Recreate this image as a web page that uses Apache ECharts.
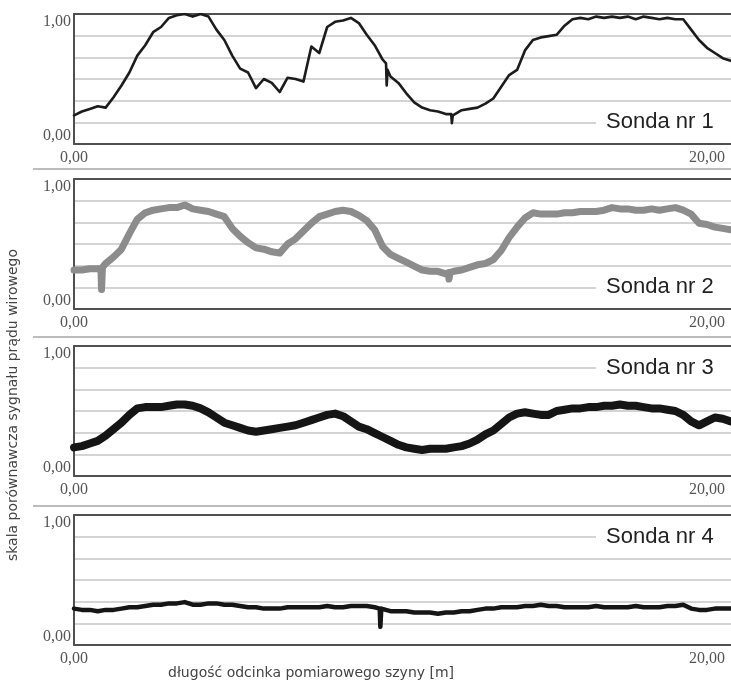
<!DOCTYPE html>
<html><head><meta charset="utf-8">
<script src="https://cdn.jsdelivr.net/npm/echarts@6/dist/echarts.min.js"></script>
<style>html,body{margin:0;padding:0;background:#fff}#c{width:731px;height:688px}</style>
</head><body><div id="c"></div>
<script>
// distance along the rail [m]
const xs = [0,0.25,0.5,0.75,1,1.25,1.5,1.75,2,2.25,2.5,2.75,3,3.25,3.5,3.75,4,4.25,4.5,4.75,
5,5.25,5.5,5.75,6,6.25,6.5,6.75,7,7.25,7.5,7.75,8,8.25,8.5,8.75,9,9.25,9.5,9.75,
10,10.25,10.5,10.75,11,11.25,11.5,11.75,12,12.25,12.5,12.75,13,13.25,13.5,13.75,14,14.25,14.5,14.75,
15,15.25,15.5,15.75,16,16.25,16.5,16.75,17,17.25,17.5,17.75,18,18.25,18.5,18.75,19,19.25,19.5,19.75,
20,20.25,20.5,20.75];

const sonda1 = [0.22,0.25,0.27,0.29,0.28,0.36,0.45,0.55,0.68,0.76,
0.86,0.90,0.97,0.99,1.00,0.98,1.00,0.98,0.88,0.80,
0.68,0.58,0.55,0.43,0.50,0.47,0.40,0.51,0.50,0.48,
0.75,0.70,0.90,0.94,0.95,0.97,0.93,0.84,0.76,0.65,
0.52,0.47,0.39,0.32,0.28,0.26,0.25,0.23,0.22,0.26,
0.27,0.28,0.31,0.35,0.44,0.53,0.57,0.72,0.80,0.82,
0.83,0.84,0.91,0.96,0.97,0.96,0.98,0.97,0.98,0.97,
0.98,0.96,0.98,0.97,0.96,0.97,0.96,0.96,0.88,0.80,
0.74,0.70,0.66,0.64];

const sonda2 = [0.30,0.30,0.31,0.31,0.35,0.40,0.46,0.58,0.69,0.74,
0.76,0.77,0.78,0.78,0.80,0.77,0.76,0.75,0.73,0.71,
0.62,0.56,0.51,0.47,0.46,0.44,0.43,0.50,0.54,0.60,
0.66,0.71,0.73,0.75,0.76,0.75,0.72,0.68,0.61,0.48,
0.42,0.39,0.36,0.33,0.30,0.29,0.29,0.27,0.29,0.30,
0.32,0.34,0.35,0.38,0.45,0.55,0.63,0.70,0.74,0.73,
0.73,0.73,0.74,0.74,0.75,0.75,0.75,0.76,0.78,0.77,
0.77,0.76,0.76,0.77,0.76,0.77,0.78,0.76,0.73,0.66,
0.65,0.63,0.62,0.61];

const sonda3 = [0.22,0.23,0.25,0.27,0.31,0.36,0.41,0.47,0.52,0.53,
0.53,0.53,0.54,0.55,0.55,0.54,0.52,0.49,0.45,0.41,
0.39,0.37,0.35,0.34,0.35,0.36,0.37,0.38,0.39,0.41,
0.43,0.45,0.47,0.48,0.46,0.42,0.38,0.36,0.33,0.30,
0.27,0.24,0.22,0.21,0.20,0.21,0.21,0.21,0.22,0.23,
0.25,0.28,0.32,0.35,0.40,0.45,0.48,0.49,0.48,0.47,
0.47,0.50,0.51,0.52,0.52,0.53,0.53,0.54,0.54,0.55,
0.54,0.54,0.53,0.52,0.52,0.51,0.50,0.47,0.42,0.39,
0.42,0.45,0.44,0.42];

const sonda4 = [0.28,0.27,0.27,0.26,0.27,0.27,0.28,0.29,0.29,0.30,
0.31,0.31,0.32,0.32,0.33,0.31,0.31,0.32,0.32,0.31,
0.31,0.30,0.29,0.29,0.28,0.28,0.28,0.29,0.29,0.29,
0.29,0.29,0.30,0.29,0.29,0.30,0.30,0.30,0.29,0.27,
0.26,0.26,0.26,0.25,0.25,0.25,0.24,0.25,0.25,0.26,
0.26,0.27,0.28,0.28,0.29,0.29,0.29,0.30,0.30,0.31,
0.30,0.30,0.29,0.29,0.29,0.29,0.30,0.29,0.29,0.29,
0.29,0.30,0.29,0.29,0.29,0.30,0.30,0.31,0.28,0.27,
0.27,0.28,0.28,0.28];

// narrow spikes: [x, value]
const spikes1 = [[9.86,0.62],[9.88,0.45],[9.91,0.57],[11.92,0.23],[11.94,0.16],[11.97,0.22]];
const spikes2 = [[0.85,0.31],[0.87,0.15],[0.90,0.32],[11.83,0.28],[11.85,0.23],[11.88,0.28]];
const spikes3 = [];
const spikes4 = [[9.66,0.28],[9.68,0.14],[9.71,0.28]];

const xTickLabels = [0, 20];
const yTopLabel = [1];
const yBottomLabel = [0];
const sondaNames = ['Sonda nr 1','Sonda nr 2','Sonda nr 3','Sonda nr 4'];

const allY = [sonda1, sonda2, sonda3, sonda4];
const allSpikes = [spikes1, spikes2, spikes3, spikes4];
const lineColors = ['#1c1c1c','#8c8c8c','#151515','#151515'];
const lineWidths = [2.6, 7, 8, 4.5];

const panelTops = [14, 179, 346, 515];
const PH = 130, XMAX = 20.76;
const fmt = v => Number(v).toFixed(2).replace('.', ',');
const serif = '"Liberation Serif", "DejaVu Serif", serif';
const axisLineStyle = {color:'#505050', width:2};

const grid = [], xAxis = [], yAxis = [], series = [];
panelTops.forEach((t, i) => {
  grid.push({left:74, top:t, right:0, height:PH, outerBoundsMode:'none', containLabel:false});
  xAxis.push({type:'value', gridIndex:i, min:0, max:XMAX, position:'bottom',
    axisLine:{show:true, onZero:false, lineStyle:axisLineStyle},
    axisTick:{show:false}, splitLine:{show:false},
    axisLabel:{show:true, customValues:xTickLabels, formatter:fmt, fontFamily:serif, fontSize:16, color:'#555', margin:6}});
  xAxis.push({type:'value', gridIndex:i, min:0, max:XMAX, position:'top',
    axisLine:{show:true, onZero:false, lineStyle:axisLineStyle},
    axisTick:{show:false}, splitLine:{show:false}, axisLabel:{show:false}});
  yAxis.push({type:'value', gridIndex:i, min:0, max:1, interval:1/6, position:'left',
    axisLine:{show:true, onZero:false, lineStyle:axisLineStyle},
    axisTick:{show:false},
    splitLine:{show:true, showMinLine:false, showMaxLine:false, lineStyle:{color:'#c6c6c6', width:1.5}},
    axisLabel:{show:true, customValues:yTopLabel, formatter:fmt, verticalAlign:'top', fontFamily:serif, fontSize:16, color:'#555', margin:3}});
  yAxis.push({type:'value', gridIndex:i, min:0, max:1, position:'left',
    axisLine:{show:false}, axisTick:{show:false}, splitLine:{show:false},
    axisLabel:{show:true, customValues:yBottomLabel, formatter:fmt, verticalAlign:'bottom', fontFamily:serif, fontSize:16, color:'#555', margin:3}});
  const data = xs.map((x, k) => [x, allY[i][k]]).concat(allSpikes[i]).sort((a, b) => a[0] - b[0]);
  series.push({type:'line', name:sondaNames[i], xAxisIndex:2*i, yAxisIndex:2*i, data:data,
    showSymbol:false, symbol:'none', smooth:false, clip:true,
    lineStyle:{color:lineColors[i], width:lineWidths[i], join:'round', cap:'round'}});
});

const sondaY = [14 + PH*5/6, 179 + PH*5/6, 346 + PH/6, 515 + PH/6];
const graphic = [];
[169, 337, 506].forEach(y => graphic.push({type:'line', z:10,
  shape:{x1:33, y1:y, x2:731, y2:y}, style:{stroke:'#a6a6a6', lineWidth:1.5}}));
sondaNames.forEach((s, i) => graphic.push({type:'text', z:20, x:596, y:sondaY[i],
  style:{text:s, font:'22px "Liberation Sans", Arial, sans-serif', fill:'#222',
    verticalAlign:'middle', align:'left', backgroundColor:'#fff', padding:[1, 30, 1, 10]}}));
graphic.push({type:'text', z:20, x:13, y:405, rotation:Math.PI/2,
  style:{text:'skala porównawcza sygnału prądu wirowego', font:'14px "DejaVu Sans", sans-serif', fill:'#444', align:'center', verticalAlign:'middle'}});
graphic.push({type:'text', z:20, x:168, y:673,
  style:{text:'długość odcinka pomiarowego szyny [m]', font:'14px "DejaVu Sans", sans-serif', fill:'#444', align:'left', verticalAlign:'middle'}});

const chart = echarts.init(document.getElementById('c'), null, {renderer:'canvas'});
chart.setOption({animation:false, backgroundColor:'#fff', grid, xAxis, yAxis, series, graphic});
</script></body></html>
